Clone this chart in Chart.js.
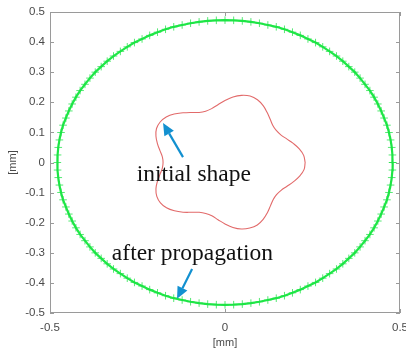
<!DOCTYPE html>
<html>
<head>
<meta charset="utf-8">
<script src="https://cdn.jsdelivr.net/npm/chart.js@4/dist/chart.umd.min.js"></script>
<style>
  body { margin: 0; background: #fff; }
  #chart { display: block; }
</style>
</head>
<body>
<canvas id="chart" width="406" height="354"></canvas>
<script>
// Contour after propagation (green), polar samples [deg], [mm]
const ringAngles = [
  0, 3, 6, 9, 12, 15, 18, 21, 24, 27, 30, 33, 36, 39, 42, 45, 48, 51, 54, 57, 60, 63, 66, 69, 72, 75, 78, 81, 84, 87,
  90, 93, 96, 99, 102, 105, 108, 111, 114, 117, 120, 123, 126, 129, 132, 135, 138, 141, 144, 147, 150, 153, 156, 159, 162, 165, 168, 171, 174, 177,
  180, 183, 186, 189, 192, 195, 198, 201, 204, 207, 210, 213, 216, 219, 222, 225, 228, 231, 234, 237, 240, 243, 246, 249, 252, 255, 258, 261, 264, 267,
  270, 273, 276, 279, 282, 285, 288, 291, 294, 297, 300, 303, 306, 309, 312, 315, 318, 321, 324, 327, 330, 333, 336, 339, 342, 345, 348, 351, 354, 357
];
const ringRadii = [
  0.479, 0.479, 0.479, 0.479, 0.479, 0.479, 0.478, 0.478, 0.478, 0.478, 0.478, 0.477, 0.477, 0.477, 0.476, 0.476, 0.476, 0.475, 0.475, 0.475, 0.474, 0.474, 0.474, 0.474, 0.474, 0.473, 0.473, 0.473, 0.473, 0.473,
  0.473, 0.473, 0.473, 0.473, 0.473, 0.473, 0.474, 0.474, 0.474, 0.474, 0.474, 0.475, 0.475, 0.475, 0.476, 0.476, 0.476, 0.477, 0.477, 0.477, 0.478, 0.478, 0.478, 0.478, 0.478, 0.479, 0.479, 0.479, 0.479, 0.479,
  0.479, 0.479, 0.479, 0.479, 0.479, 0.479, 0.478, 0.478, 0.478, 0.478, 0.478, 0.477, 0.477, 0.477, 0.476, 0.476, 0.476, 0.475, 0.475, 0.475, 0.474, 0.474, 0.474, 0.474, 0.474, 0.473, 0.473, 0.473, 0.473, 0.473,
  0.473, 0.473, 0.473, 0.473, 0.473, 0.473, 0.474, 0.474, 0.474, 0.474, 0.474, 0.475, 0.475, 0.475, 0.476, 0.476, 0.476, 0.477, 0.477, 0.477, 0.478, 0.478, 0.478, 0.478, 0.478, 0.479, 0.479, 0.479, 0.479, 0.479
];

// Initial five-lobed shape (red)
const shapeAngles = [
  0, 6, 12, 18, 24, 30, 36, 42, 48, 54, 60, 66,
  72, 78, 84, 90, 96, 102, 108, 114, 120, 126, 132, 138,
  144, 150, 156, 162, 168, 174, 180, 186, 192, 198, 204, 210,
  216, 222, 228, 234, 240, 246, 252, 258, 264, 270, 276, 282,
  288, 294, 300, 306, 312, 318, 324, 330, 336, 342, 348, 354
];
const shapeRadii = [
  0.229, 0.226, 0.217, 0.205, 0.193, 0.184, 0.181, 0.184, 0.193, 0.205, 0.218, 0.228,
  0.232, 0.228, 0.219, 0.206, 0.193, 0.183, 0.179, 0.182, 0.192, 0.204, 0.217, 0.226,
  0.229, 0.226, 0.216, 0.203, 0.190, 0.180, 0.177, 0.180, 0.190, 0.203, 0.216, 0.225,
  0.228, 0.225, 0.216, 0.204, 0.191, 0.181, 0.178, 0.181, 0.191, 0.204, 0.217, 0.226,
  0.229, 0.227, 0.218, 0.206, 0.194, 0.185, 0.182, 0.185, 0.194, 0.206, 0.218, 0.227
];

const xTicks = [-0.5, 0, 0.5];
const yTicks = [0.5, 0.4, 0.3, 0.2, 0.1, 0, -0.1, -0.2, -0.3, -0.4, -0.5];

// annotations, in data units
const notes = [
  { text: 'initial shape', x: -0.089, y: -0.061, tail: [-0.12, 0.018], tip: [-0.177, 0.131] },
  { text: 'after propagation', x: -0.093, y: -0.324, tail: [-0.094, -0.354], tip: [-0.137, -0.453] }
];

function toPoints(angles, radii) {
  const pts = angles.map((a, i) => ({
    x: radii[i] * Math.cos(a * Math.PI / 180),
    y: radii[i] * Math.sin(a * Math.PI / 180)
  }));
  pts.push(pts[0]); // close the contour
  return pts;
}

const axisGray = '#9a9a9a';
const tickGray = '#4a4a4a';

const frame = {
  id: 'frame',
  afterDraw(chart) {
    const { ctx, chartArea: a, scales: { x, y } } = chart;
    ctx.save();
    ctx.strokeStyle = axisGray;
    ctx.lineWidth = 1;
    ctx.strokeRect(a.left + 0.5, a.top + 0.5, a.right - a.left - 1, a.bottom - a.top - 1);
    ctx.beginPath();
    x.ticks.forEach(t => {
      const px = Math.round(x.getPixelForValue(t.value)) + 0.5;
      ctx.moveTo(px, a.bottom); ctx.lineTo(px, a.bottom - 4);
      ctx.moveTo(px, a.top); ctx.lineTo(px, a.top + 4);
    });
    y.ticks.forEach(t => {
      const py = Math.round(y.getPixelForValue(t.value)) + 0.5;
      ctx.moveTo(a.left, py); ctx.lineTo(a.left + 4, py);
      ctx.moveTo(a.right, py); ctx.lineTo(a.right - 4, py);
    });
    ctx.stroke();

    // arrows and labels
    notes.forEach(n => {
      const x0 = x.getPixelForValue(n.tail[0]), y0 = y.getPixelForValue(n.tail[1]);
      const x1 = x.getPixelForValue(n.tip[0]), y1 = y.getPixelForValue(n.tip[1]);
      const ang = Math.atan2(y1 - y0, x1 - x0);
      const head = 12, half = 5.5;
      const bx = x1 - head * Math.cos(ang), by = y1 - head * Math.sin(ang);
      ctx.strokeStyle = '#1290d0';
      ctx.fillStyle = '#1290d0';
      ctx.lineWidth = 2.2;
      ctx.beginPath();
      ctx.moveTo(x0, y0); ctx.lineTo(bx, by);
      ctx.stroke();
      ctx.beginPath();
      ctx.moveTo(x1, y1);
      ctx.lineTo(bx + half * Math.sin(ang), by - half * Math.cos(ang));
      ctx.lineTo(bx - half * Math.sin(ang), by + half * Math.cos(ang));
      ctx.closePath();
      ctx.fill();

      ctx.fillStyle = '#111';
      ctx.font = '23.5px "Liberation Serif", "Times New Roman", serif';
      ctx.textAlign = 'center';
      ctx.textBaseline = 'alphabetic';
      ctx.fillText(n.text, x.getPixelForValue(n.x), y.getPixelForValue(n.y));
    });
    ctx.restore();
  }
};

const fmt = v => {
  const s = Number(v).toFixed(1);
  return s === '0.0' || s === '-0.0' ? '0' : s;
};

new Chart(document.getElementById('chart'), {
  type: 'scatter',
  data: {
    datasets: [
      {
        label: 'after propagation',
        data: toPoints(ringAngles, ringRadii),
        showLine: true,
        borderColor: '#1ee846',
        borderWidth: 2.2,
        pointStyle: 'cross',
        pointRadius: 3.8,
        pointBorderWidth: 1,
        pointBorderColor: 'rgba(30, 225, 70, 0.75)',
        pointBackgroundColor: 'transparent'
      },
      {
        label: 'initial shape',
        data: toPoints(shapeAngles, shapeRadii),
        showLine: true,
        borderColor: '#e26a6a',
        borderWidth: 1.1,
        tension: 0.4,
        pointRadius: 0
      }
    ]
  },
  options: {
    responsive: false,
    animation: false,
    layout: { padding: { top: 12, right: 6, left: 0, bottom: 0 } },
    plugins: { legend: { display: false }, tooltip: { enabled: false } },
    scales: {
      x: {
        type: 'linear',
        min: -0.5,
        max: 0.5,
        afterBuildTicks: s => { s.ticks = xTicks.map(v => ({ value: v })); },
        afterFit: s => { s.height = 41; s.paddingLeft = 0; s.paddingRight = 0; },
        grid: { display: false, drawTicks: false },
        border: { display: false },
        ticks: {
          padding: 8,
          color: tickGray,
          font: { family: '"Liberation Sans", Arial, sans-serif', size: 11.5 },
          maxRotation: 0,
          callback: fmt
        },
        title: {
          display: true,
          text: '[mm]',
          color: tickGray,
          font: { family: '"Liberation Sans", Arial, sans-serif', size: 11 },
          padding: { top: 0, bottom: 4 }
        }
      },
      y: {
        type: 'linear',
        min: -0.5,
        max: 0.5,
        afterBuildTicks: s => { s.ticks = yTicks.map(v => ({ value: v })); },
        afterFit: s => { s.width = 50; },
        grid: { display: false, drawTicks: false },
        border: { display: false },
        ticks: {
          padding: 5,
          color: tickGray,
          font: { family: '"Liberation Sans", Arial, sans-serif', size: 11.5 },
          callback: fmt
        },
        title: {
          display: true,
          text: '[mm]',
          color: tickGray,
          font: { family: '"Liberation Sans", Arial, sans-serif', size: 11 },
          padding: { top: 6, bottom: 0 }
        }
      }
    }
  },
  plugins: [frame]
});
</script>
</body>
</html>
